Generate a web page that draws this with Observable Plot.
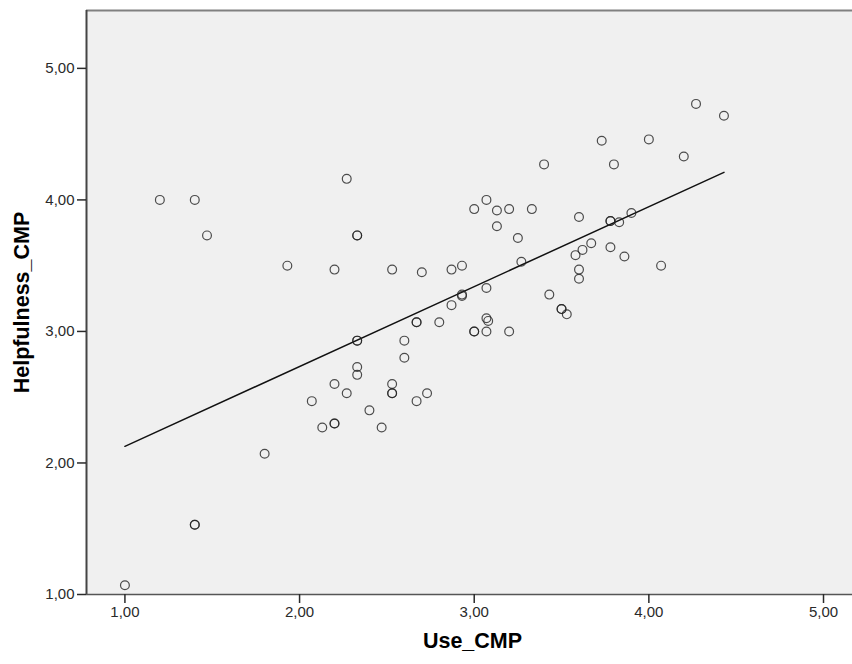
<!DOCTYPE html>
<html>
<head>
<meta charset="utf-8">
<script src="https://cdn.jsdelivr.net/npm/d3@7"></script>
<script src="https://cdn.jsdelivr.net/npm/@observablehq/plot@0.6"></script>
<style>
  html, body { margin: 0; padding: 0; background: #fff; }
  #chart { width: 852px; height: 664px; }
</style>
</head>
<body>
<div id="chart"></div>
<script>
// Use_CMP values (x)
const useCMP = [
  1.00, 1.40, 1.40, 1.20, 1.40, 1.47, 1.80, 1.93, 2.07, 2.13,
  2.20, 2.20, 2.20, 2.20, 2.27, 2.27, 2.33, 2.33, 2.33, 2.33,
  2.33, 2.33, 2.40, 2.47, 2.53, 2.53, 2.53, 2.53, 2.60, 2.60,
  2.67, 2.67, 2.67, 2.70, 2.73, 2.80, 2.87, 2.87, 2.93, 2.93,
  2.93, 3.00, 3.00, 3.00, 3.07, 3.07, 3.07, 3.08, 3.07, 3.13,
  3.13, 3.20, 3.20, 3.25, 3.27, 3.33, 3.40, 3.43, 3.50, 3.50,
  3.53, 3.58, 3.60, 3.60, 3.60, 3.62, 3.67, 3.73, 3.78, 3.78,
  3.78, 3.80, 3.83, 3.86, 3.90, 4.00, 4.07, 4.20, 4.27, 4.43
];
// Helpfulness_CMP values (y)
const helpfulnessCMP = [
  1.07, 1.53, 1.53, 4.00, 4.00, 3.73, 2.07, 3.50, 2.47, 2.27,
  2.30, 2.30, 2.60, 3.47, 2.53, 4.16, 3.73, 3.73, 2.93, 2.93,
  2.73, 2.67, 2.40, 2.27, 2.60, 2.53, 2.53, 3.47, 2.93, 2.80,
  3.07, 3.07, 2.47, 3.45, 2.53, 3.07, 3.20, 3.47, 3.50, 3.27,
  3.28, 3.93, 3.00, 3.00, 4.00, 3.33, 3.10, 3.08, 3.00, 3.92,
  3.80, 3.93, 3.00, 3.71, 3.53, 3.93, 4.27, 3.28, 3.17, 3.17,
  3.13, 3.58, 3.87, 3.47, 3.40, 3.62, 3.67, 4.45, 3.84, 3.84,
  3.64, 4.27, 3.83, 3.57, 3.90, 4.46, 3.50, 4.33, 4.73, 4.64
];
const xTicks = [1, 2, 3, 4, 5];
const yTicks = [1, 2, 3, 4, 5];
const xDomain = [0.78, 5.166];
const yDomain = [1, 5.44];
const xLabel = "Use_CMP";
const yLabel = "Helpfulness_CMP";

const data = useCMP.map((u, i) => ({use: u, help: helpfulnessCMP[i]}));
const fmt = d => d.toFixed(2).replace(".", ",");

const chart = Plot.plot({
  width: 852,
  height: 664,
  marginLeft: 86,
  marginRight: 0,
  marginTop: 10,
  marginBottom: 70,
  style: {fontFamily: "'Liberation Sans', Arial, sans-serif", fontSize: "15px", color: "#2a2a2a", background: "#fff", overflow: "visible"},
  x: {domain: xDomain},
  y: {domain: yDomain},
  marks: [
    Plot.frame({fill: "#f0f0f0", stroke: "none"}),
    Plot.ruleY([yDomain[1]], {stroke: "#808080", strokeWidth: 2}),
    Plot.ruleX([xDomain[0]], {stroke: "#444", strokeWidth: 2}),
    Plot.ruleY([yDomain[0]], {stroke: "#555", strokeWidth: 1.5}),
    Plot.axisX({ticks: xTicks, tickFormat: fmt, tickSize: 9, tickPadding: 3, fontSize: 15, label: null, strokeWidth: 1.5}),
    Plot.axisY({ticks: yTicks, tickFormat: fmt, tickSize: 9, tickPadding: 3, fontSize: 15, label: null, strokeWidth: 1.5}),
    Plot.linearRegressionY(data, {x: "use", y: "help", stroke: "#111", strokeWidth: 1.5, ci: 0}),
    Plot.dot(data, {x: "use", y: "help", r: 4.4, stroke: "#222", strokeWidth: 1.2, strokeOpacity: 0.8, fill: "none"}),
    Plot.text([yLabel], {frameAnchor: "left", dx: -64, rotate: -90, textAnchor: "middle", lineAnchor: "middle", fontSize: 21.5, fontWeight: "bold", fill: "#000"}),
    Plot.text([xLabel], {frameAnchor: "bottom", dx: 3, dy: 47, textAnchor: "middle", lineAnchor: "middle", fontSize: 21.5, fontWeight: "bold", fill: "#000"})
  ]
});
document.getElementById("chart").appendChild(chart);
</script>
</body>
</html>
